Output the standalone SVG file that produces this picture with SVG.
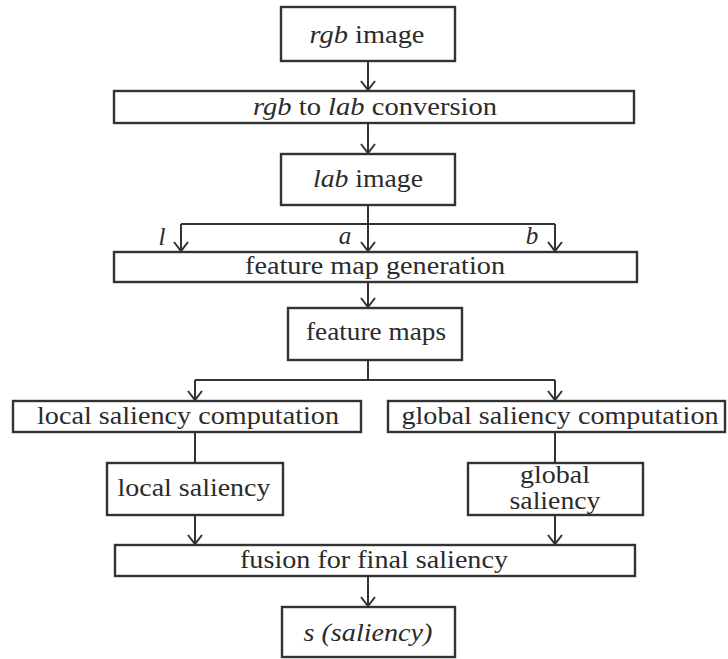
<svg xmlns="http://www.w3.org/2000/svg" width="728" height="659" viewBox="0 0 728 659">
<style>
.box{fill:#fff;stroke:#333;stroke-width:2.4}
.t{font-family:"Liberation Serif","Times New Roman",serif;font-size:25px;fill:#2b2b2b;text-anchor:middle}
.i{font-style:italic}
.c{fill:none;stroke:#333;stroke-width:2}
</style>
<defs>
<marker id="ah" markerUnits="userSpaceOnUse" viewBox="-1 -8 12 16" markerWidth="12" markerHeight="16" refX="9" refY="0" orient="auto">
<path d="M0,-7 L9,0 L0,7" fill="none" stroke="#333" stroke-width="2"/>
</marker>
</defs>
<rect width="728" height="659" fill="#fff"/>
<g id="connectors">
<path class="c" d="M368,61 V90" marker-end="url(#ah)"/>
<path class="c" d="M368,123 V153" marker-end="url(#ah)"/>
<path class="c" d="M368,205 V224 M181,224 H555"/>
<path class="c" d="M181,224 V251" marker-end="url(#ah)"/>
<path class="c" d="M368,224 V251" marker-end="url(#ah)"/>
<path class="c" d="M555,224 V251" marker-end="url(#ah)"/>
<path class="c" d="M368,282 V307" marker-end="url(#ah)"/>
<path class="c" d="M368,360 V380 M195,380 H555"/>
<path class="c" d="M195,380 V400" marker-end="url(#ah)"/>
<path class="c" d="M555,380 V400" marker-end="url(#ah)"/>
<path class="c" d="M195,432 V463 M555,432 V463"/>
<path class="c" d="M195,515 V544" marker-end="url(#ah)"/>
<path class="c" d="M555,515 V544" marker-end="url(#ah)"/>
<path class="c" d="M368,576 V606" marker-end="url(#ah)"/>
<text class="t i" x="162" y="245">l</text>
<text class="t i" x="345" y="244">a</text>
<text class="t i" x="532" y="244">b</text>
</g>
<g id="rgb-image">
<rect class="box" x="281" y="7" width="174" height="54"/>
<text class="t" x="367" y="43" textLength="115" lengthAdjust="spacingAndGlyphs"><tspan class="i">rgb</tspan> image</text>
</g>
<g id="conversion">
<rect class="box" x="114" y="91" width="520" height="32"/>
<text class="t" x="375" y="115" textLength="244" lengthAdjust="spacingAndGlyphs"><tspan class="i">rgb</tspan> to <tspan class="i">lab</tspan> conversion</text>
</g>
<g id="lab-image">
<rect class="box" x="281" y="154" width="174" height="51"/>
<text class="t" x="368" y="187" textLength="110" lengthAdjust="spacingAndGlyphs"><tspan class="i">lab</tspan> image</text>
</g>
<g id="feature-map-generation">
<rect class="box" x="114" y="252" width="523" height="30"/>
<text class="t" x="375" y="274" textLength="260" lengthAdjust="spacingAndGlyphs">feature map generation</text>
</g>
<g id="feature-maps">
<rect class="box" x="288" y="308" width="174" height="52"/>
<text class="t" x="376" y="340" textLength="140" lengthAdjust="spacingAndGlyphs">feature maps</text>
</g>
<g id="local-saliency-computation">
<rect class="box" x="13" y="401" width="348" height="31"/>
<text class="t" x="188" y="424" textLength="302" lengthAdjust="spacingAndGlyphs">local saliency computation</text>
</g>
<g id="global-saliency-computation">
<rect class="box" x="388" y="401" width="337" height="31"/>
<text class="t" x="560" y="424" textLength="317" lengthAdjust="spacingAndGlyphs">global saliency computation</text>
</g>
<g id="local-saliency">
<rect class="box" x="107" y="463" width="176" height="52"/>
<text class="t" x="194" y="496" textLength="153" lengthAdjust="spacingAndGlyphs">local saliency</text>
</g>
<g id="global-saliency">
<rect class="box" x="468" y="463" width="175" height="52"/>
<text class="t" x="555" y="483" textLength="70" lengthAdjust="spacingAndGlyphs">global</text>
<text class="t" x="555" y="509" textLength="91" lengthAdjust="spacingAndGlyphs">saliency</text>
</g>
<g id="fusion">
<rect class="box" x="115" y="545" width="520" height="31"/>
<text class="t" x="374" y="568" textLength="268" lengthAdjust="spacingAndGlyphs">fusion for final saliency</text>
</g>
<g id="saliency">
<rect class="box" x="282" y="607" width="173" height="50"/>
<text class="t i" x="368" y="641" textLength="129" lengthAdjust="spacingAndGlyphs">s (saliency)</text>
</g>
</svg>
